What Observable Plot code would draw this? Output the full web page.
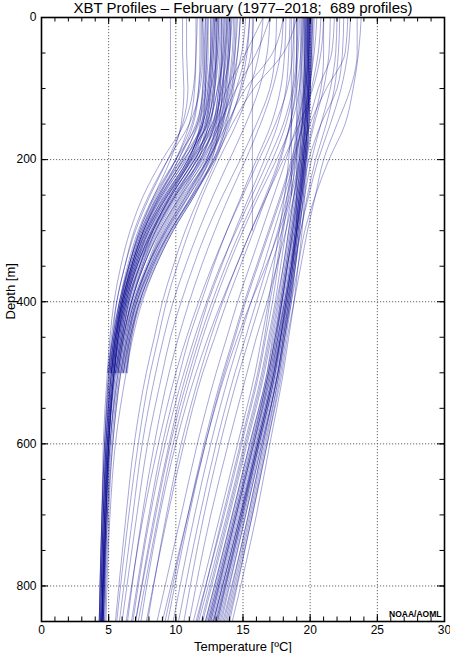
<!DOCTYPE html>
<html><head><meta charset="utf-8">
<script src="https://cdn.jsdelivr.net/npm/d3@7"></script>
<script src="https://cdn.jsdelivr.net/npm/@observablehq/plot@0.6"></script>
<style>html,body{margin:0;padding:0;background:#fff}</style>
</head><body><div id="chart"></div>
<script>
// Depth levels (m) at which each profile's temperature (°C) is read
const depthLevels = [0,50,100,150,200,250,300,350,400,450,500,600,700,850];

// Cold (slope water) profiles reaching 850 m
const coldFull = [
 [13.0,13.0,12.8,12.3,10.8,9.0,7.6,6.7,6.0,5.6,5.3,4.9,4.7,4.5],
 [12.4,12.4,12.2,11.6,10.0,8.4,7.2,6.4,5.8,5.4,5.1,4.8,4.6,4.4],
 [14.0,13.9,13.6,13.0,11.6,9.8,8.3,7.2,6.4,5.9,5.5,5.0,4.8,4.5],
 [13.5,13.4,13.2,12.7,11.2,9.4,8.0,7.0,6.2,5.7,5.4,5.0,4.7,4.5],
 [12.0,12.0,11.8,11.0,9.4,8.0,6.9,6.2,5.6,5.3,5.0,4.7,4.5,4.3],
 [14.6,14.4,14.0,13.4,12.2,10.4,8.8,7.6,6.7,6.1,5.7,5.1,4.9,4.6],
 [13.2,13.1,12.6,12.0,10.9,9.2,7.8,6.8,6.1,5.7,5.4,5.0,4.8,4.6],
 [11.6,11.5,11.3,10.6,9.0,7.6,6.6,5.9,5.4,5.1,4.9,4.6,4.5,4.3],
 [15.2,14.9,14.2,13.3,11.9,10.1,8.6,7.5,6.6,6.0,5.6,5.1,4.8,4.5],
 [12.8,12.7,12.5,12.2,11.2,9.4,7.8,6.8,6.0,5.5,5.2,4.8,4.6,4.4],
 [13.8,13.6,13.1,12.4,10.6,8.9,7.6,6.7,6.0,5.6,5.3,4.9,4.7,4.5],
 [12.2,12.1,12.0,11.8,11.0,9.5,8.1,7.0,6.2,5.7,5.4,5.0,4.8,4.6],
 [14.3,14.2,13.9,13.5,12.6,11.0,9.3,7.9,6.9,6.2,5.8,5.2,4.9,4.7],
 [13.4,13.3,13.1,12.5,11.4,9.6,8.0,6.9,6.1,5.6,5.3,4.9,4.6,4.4],
 [10.8,10.8,10.9,10.5,9.4,8.1,7.0,6.2,5.6,5.2,5.0,4.7,4.5,4.3],
 [12.6,12.6,12.4,12.0,10.4,8.7,7.4,6.5,5.9,5.5,5.2,4.9,4.7,4.5],
 [13.6,13.5,13.3,12.9,11.8,10.0,8.4,7.3,6.4,5.9,5.5,5.0,4.8,4.5],
 [12.9,12.8,12.6,12.1,10.6,8.9,7.6,6.7,6.0,5.5,5.2,4.8,4.6,4.4],
 [14.1,14.0,13.5,12.8,11.4,9.7,8.2,7.1,6.3,5.8,5.4,5.0,4.7,4.5],
 [11.9,11.9,11.7,11.2,10.0,8.5,7.3,6.5,5.9,5.4,5.1,4.7,4.5,4.3],
 [13.1,13.0,12.9,12.6,11.6,9.9,8.3,7.1,6.3,5.8,5.4,5.0,4.8,4.6],
 [14.8,14.6,14.3,13.8,12.9,11.3,9.6,8.2,7.1,6.4,5.9,5.3,5.0,4.7],
 [12.3,12.3,12.2,11.9,10.9,9.2,7.7,6.7,6.0,5.5,5.2,4.8,4.6,4.4],
 [13.9,13.8,13.4,12.7,11.1,9.3,7.9,6.9,6.2,5.7,5.4,4.9,4.7,4.5]
];

// Cold profiles ending at 500 m
const coldShort = [
 [13.0,12.9,12.7,12.2,11.0,9.4,8.0,7.0,6.2,5.7,5.4],
 [13.6,13.5,13.2,12.8,11.8,10.0,8.5,7.4,6.5,6.0,5.6],
 [12.4,12.3,12.1,11.5,10.2,8.7,7.5,6.6,5.9,5.4,5.1],
 [14.2,14.0,13.7,13.2,12.3,10.7,9.2,8.0,7.0,6.4,6.0],
 [12.9,12.8,12.6,12.3,11.5,10.0,8.5,7.3,6.4,5.9,5.5],
 [13.3,13.2,12.9,12.3,11.1,9.6,8.3,7.3,6.5,6.0,5.6],
 [11.8,11.8,11.7,11.3,10.2,8.8,7.5,6.6,5.9,5.4,5.0],
 [14.8,14.6,14.1,13.5,12.5,11.0,9.5,8.2,7.2,6.6,6.3],
 [13.1,13.0,12.8,12.4,11.7,10.3,8.8,7.6,6.7,6.1,5.7],
 [12.6,12.6,12.4,11.9,10.7,9.1,7.8,6.8,6.1,5.6,5.2],
 [13.9,13.7,13.4,12.9,11.9,10.4,8.9,7.8,6.8,6.2,5.8],
 [12.2,12.2,12.0,11.6,10.5,9.0,7.7,6.8,6.1,5.5,5.1],
 [10.5,10.5,10.6,10.4,9.6,8.4,7.3,6.5,5.8,5.3,5.0],
 [14.4,14.3,13.9,13.2,12.1,10.5,9.0,7.9,7.0,6.4,6.0],
 [13.4,13.4,13.3,13.0,12.3,10.8,9.2,7.9,6.9,6.3,5.9],
 [12.0,12.1,12.2,12.0,11.1,9.6,8.2,7.1,6.3,5.7,5.3],
 [15.5,15.2,14.5,13.6,12.4,10.8,9.3,8.1,7.1,6.5,6.1],
 [13.7,13.6,13.5,13.2,12.7,11.4,9.8,8.5,7.4,6.7,6.4],
 [12.7,12.6,12.3,11.7,10.4,8.8,7.6,6.7,6.0,5.5,5.2],
 [14.1,14.0,13.8,13.4,12.5,11.2,9.6,8.3,7.3,6.6,6.2],
 [13.2,13.1,12.9,12.5,11.3,9.7,8.2,7.1,6.3,5.8,5.4],
 [14.5,14.4,14.2,13.7,12.8,11.3,9.7,8.4,7.3,6.7,6.3],
 [12.8,12.7,12.5,12.0,10.9,9.3,7.9,6.9,6.1,5.6,5.2],
 [13.8,13.7,13.5,13.1,12.0,10.2,8.7,7.6,6.7,6.1,5.7],
 [11.5,11.5,11.4,11.0,10.0,8.6,7.4,6.5,5.8,5.3,4.9],
 [14.0,13.9,13.7,13.3,12.4,10.9,9.4,8.1,7.1,6.5,6.1]
];

// Cold profiles with a warm surface layer
const coldWarmTop = [
 [17.0,16.0,14.5,13.2,11.6,9.9,8.5,7.5,6.7,6.1,5.7,5.1,4.8,4.5],
 [16.5,15.2,13.8,12.9,11.4,9.7,8.3,7.3,6.5,6.0,5.5],
 [18.0,17.2,15.2,13.8,12.4,10.6,9.1,7.9,6.9,6.3,5.9,5.3,4.9,4.6],
 [15.8,15.6,14.9,13.9,12.8,11.2,9.6,8.3,7.3,6.6,6.1],
 [19.0,18.0,15.8,14.2,12.9,11.4,9.8,8.5,7.5,6.8,6.3,5.5,5.1,4.8]
];

// Warm (Sargasso / Gulf Stream) core profiles
const warmCore = [
 [19.8,19.8,19.7,19.6,19.4,19.1,18.8,18.4,18.0,17.6,17.2,16.0,14.8,12.8],
 [20.0,20.0,19.9,19.8,19.6,19.3,19.0,18.7,18.3,17.9,17.5,16.3,15.1,13.2],
 [19.6,19.6,19.5,19.4,19.2,18.9,18.5,18.1,17.7,17.2,16.8,15.5,14.2,12.2],
 [19.9,19.9,19.8,19.7,19.5,19.3,19.0,18.7,18.4,18.0,17.6,16.5,15.4,13.6],
 [20.1,20.0,19.9,19.8,19.7,19.5,19.2,18.9,18.5,18.1,17.7,16.7,15.6,13.8],
 [19.7,19.7,19.6,19.5,19.3,19.0,18.6,18.2,17.8,17.4,16.9,15.7,14.4,12.4],
 [19.5,19.5,19.4,19.2,18.9,18.6,18.2,17.8,17.4,16.9,16.4,15.1,13.8,11.7],
 [20.0,19.9,19.9,19.8,19.6,19.4,19.1,18.8,18.5,18.1,17.7,16.6,15.5,13.7],
 [19.8,19.8,19.8,19.7,19.5,19.2,18.9,18.5,18.1,17.7,17.2,16.0,14.7,12.7],
 [19.9,19.9,19.8,19.6,19.4,19.2,18.9,18.6,18.2,17.8,17.4,16.2,15.0,13.0],
 [19.4,19.4,19.3,19.1,18.8,18.4,18.0,17.6,17.2,16.7,16.2,14.9,13.6,11.5],
 [20.2,20.1,20.0,19.9,19.8,19.6,19.4,19.1,18.8,18.4,18.0,17.0,16.0,14.2],
 [18.8,18.8,18.7,18.6,18.4,18.1,17.7,17.3,16.9,16.4,15.9,14.6,13.3,11.3],
 [19.7,19.7,19.7,19.6,19.4,19.1,18.7,18.3,17.9,17.5,17.0,15.8,14.5,12.5],
 [20.0,20.0,20.0,19.9,19.7,19.4,19.1,18.8,18.4,18.0,17.6,16.4,15.2,13.4],
 [19.6,19.6,19.6,19.5,19.3,19.0,18.7,18.3,17.9,17.4,16.9,15.6,14.3,12.3],
 [19.8,19.8,19.7,19.6,19.5,19.2,18.9,18.6,18.2,17.8,17.3,16.1,14.8,12.8],
 [20.0,19.9,19.9,19.8,19.6,19.4,19.0,18.7,18.3,17.8,17.4,16.2,14.9,13.0],
 [19.6,19.6,19.5,19.4,19.1,18.8,18.4,18.0,17.6,17.1,16.6,15.3,14.0,12.0],
 [19.9,19.9,19.9,19.8,19.6,19.3,19.0,18.6,18.2,17.7,17.3,16.1,14.9,13.1],
 [20.1,20.1,20.0,19.9,19.7,19.5,19.2,18.9,18.6,18.2,17.8,16.8,15.7,13.9],
 [19.7,19.7,19.6,19.4,19.2,18.8,18.4,18.0,17.5,17.0,16.5,15.2,13.9,11.9],
 [19.3,19.3,19.2,19.0,18.7,18.3,17.9,17.5,17.0,16.6,16.1,14.8,13.5,11.6],
 [19.9,19.9,19.8,19.7,19.5,19.3,19.0,18.6,18.1,17.6,17.1,15.8,14.5,12.6]
];

// Warm profiles with a very warm surface layer
const warmSurface = [
 [22.5,22.4,22.0,20.8,19.9,19.4,19.0,18.6,18.2,17.8,17.3,16.1,14.9,12.9],
 [23.0,22.8,22.3,21.5,20.6,19.9,19.3,18.9,18.5,18.0,17.6,16.4,15.2,13.3],
 [21.5,21.4,21.0,20.3,19.7,19.3,18.9,18.5,18.1,17.6,17.1,15.9,14.6,12.6],
 [23.5,23.5,23.0,22.0,21.0,20.4,19.8,19.3,18.8,18.3,17.9,16.8,15.7,14.0],
 [22.0,21.9,21.5,20.8,20.1,19.6,19.1,18.7,18.3,17.8,17.3,16.1,14.8,12.8],
 [21.0,21.0,20.8,20.2,19.6,19.2,18.8,18.3,17.9,17.4,16.9,15.7,14.4,12.4],
 [22.8,22.6,21.2,20.0,19.4,19.0,18.6,18.2,17.8,17.3,16.8,15.5,14.2,12.2],
 [23.8,23.6,23.2,22.6,21.4,20.4,19.6,19.1,18.6,18.1,17.6,16.5,15.4,13.5],
 [21.8,21.6,20.6,19.9,19.5,19.1,18.7,18.3,17.9,17.5,17.0,15.8,14.5,12.5],
 [22.2,22.1,21.8,21.2,20.4,19.8,19.3,18.8,18.4,17.9,17.4,16.2,15.0,13.1]
];

// Transitional (frontal) profiles
const middle = [
 [19.0,19.0,18.9,18.5,17.8,16.8,15.8,14.8,13.8,12.9,12.0,10.6,9.4,7.8],
 [19.5,19.4,19.2,18.6,17.5,16.2,15.0,13.9,12.9,12.0,11.2,9.8,8.7,7.2],
 [18.5,18.4,18.2,17.6,16.6,15.5,14.4,13.4,12.4,11.6,10.8,9.5,8.4,7.0],
 [20.0,19.9,19.6,19.0,18.2,17.3,16.4,15.5,14.6,13.8,13.0,11.6,10.4,8.6],
 [19.7,19.6,19.5,19.2,18.6,17.8,16.9,16.0,15.1,14.3,13.5,12.1,10.9,9.2],
 [18.8,18.7,18.3,17.4,16.2,15.0,13.8,12.7,11.7,10.8,10.0,8.7,7.6,6.3],
 [19.2,19.1,18.8,18.2,17.2,16.0,14.8,13.7,12.7,11.8,11.0,9.6,8.5,7.0],
 [20.5,20.3,19.9,19.4,18.8,18.1,17.3,16.5,15.6,14.8,14.0,12.6,11.4,9.8],
 [19.9,19.8,19.7,19.4,18.9,18.3,17.6,16.8,16.0,15.2,14.4,13.0,11.8,10.2],
 [17.5,17.4,17.0,16.0,14.8,13.5,12.3,11.3,10.4,9.6,9.0,7.9,7.1,6.0],
 [16.5,16.2,15.5,14.5,13.2,12.0,11.0,10.1,9.3,8.7,8.1,7.2,6.5,5.6],
 [18.0,17.8,17.2,16.3,15.2,14.0,12.9,11.9,11.0,10.2,9.5,8.4,7.5,6.4],
 [20.2,20.1,19.9,19.6,19.2,18.6,17.9,17.1,16.3,15.5,14.7,13.3,12.1,10.6],
 [21.0,20.8,20.2,19.2,18.0,16.8,15.6,14.5,13.5,12.6,11.8,10.4,9.3,7.9],
 [15.5,15.3,14.8,14.0,13.0,11.8,10.7,9.8,9.0,8.4,7.8,6.9,6.3,5.5],
 [19.8,19.7,19.6,19.3,19.0,18.5,17.7,16.7,15.6,14.6,13.7,12.2,10.9,9.0],
 [18.2,18.1,17.8,17.1,16.0,14.9,13.8,12.8,11.9,11.0,10.3,9.0,8.0,6.7],
 [20.8,20.6,20.1,19.5,18.7,17.9,17.0,16.1,15.2,14.4,13.6,12.2,11.0,9.4],
 [19.4,19.3,19.0,18.5,17.7,16.7,15.6,14.5,13.4,12.4,11.5,10.0,8.8,7.4],
 [17.0,16.8,16.2,15.2,14.0,12.8,11.7,10.7,9.8,9.1,8.5,7.5,6.8,5.8],
 [20.3,20.2,20.0,19.7,19.3,18.8,18.2,17.5,16.8,16.0,15.3,13.9,12.6,11.0],
 [19.1,19.0,18.7,18.0,16.9,15.7,14.5,13.3,12.3,11.4,10.6,9.2,8.1,6.8]
];

// Faulty constant-temperature drops
const anomalies = [
 [15.7,15.7,15.7,15.7,15.7,15.7,15.7],
 [18.6,18.6,18.6,18.6,18.6,18.6],
 [9.6,9.6,9.6],
 [19.0,19.0,19.0,19.0,19.0,19.0,19.0]
];

// Axis ticks
const xMajor = [0,5,10,15,20,25,30];
const xMinor = d3.range(0, 31, 1);
const yMajor = [0,200,400,600,800];
const yMinor = d3.range(0, 851, 50);
const xGrid = [5,10,15,20,25];
const yGrid = [200,400,600,800];

const titleText = "XBT Profiles \u2013 February (1977\u20132018;\u00a0 689 profiles)";
const xLabel = "Temperature [\u00baC]";
const yLabel = "Depth [m]";
const credit = "NOAA/AOML";

const rows = [];
let pid = 0;
for (const g of [coldFull, coldShort, coldWarmTop, warmCore, warmSurface, middle, anomalies]) {
  for (const p of g) {
    p.forEach((t, i) => rows.push({id: pid, depth: depthLevels[i], temp: t}));
    pid++;
  }
}

const FH = 604, FW = 403; // frame size in px
const MAJ = 7, MIN = 4.5;
const font = "'Liberation Sans', Arial, Helvetica, sans-serif";

const chart = Plot.plot({
  width: 450, height: 653,
  marginLeft: 41, marginRight: 6, marginTop: 17, marginBottom: 32,
  style: {fontFamily: font, background: "#fff", color: "#000", overflow: "visible"},
  x: {domain: [0, 30], axis: null},
  y: {domain: [0, 850], reverse: true, axis: null},
  marks: [
    Plot.ruleX(xGrid, {x: d => d, stroke: "#666", strokeWidth: 1, strokeDasharray: "1.2,1.8"}),
    Plot.ruleY(yGrid, {y: d => d, stroke: "#666", strokeWidth: 1, strokeDasharray: "1.2,1.8"}),
    Plot.line(rows, {x: "temp", y: "depth", z: "id", curve: "monotone-y",
      stroke: "#08088f", strokeOpacity: 0.4, strokeWidth: 0.9}),
    // inward ticks: bottom, top, left, right
    Plot.ruleX(xMinor, {x: d => d, insetTop: FH - MIN, stroke: "#000"}),
    Plot.ruleX(xMinor, {x: d => d, insetBottom: FH - MIN, stroke: "#000"}),
    Plot.ruleX(xMajor, {x: d => d, insetTop: FH - MAJ, stroke: "#000"}),
    Plot.ruleX(xMajor, {x: d => d, insetBottom: FH - MAJ, stroke: "#000"}),
    Plot.ruleY(yMinor, {y: d => d, insetRight: FW - MIN, stroke: "#000"}),
    Plot.ruleY(yMinor, {y: d => d, insetLeft: FW - MIN, stroke: "#000"}),
    Plot.ruleY(yMajor, {y: d => d, insetRight: FW - MAJ, stroke: "#000"}),
    Plot.ruleY(yMajor, {y: d => d, insetLeft: FW - MAJ, stroke: "#000"}),
    Plot.frame({stroke: "#000", strokeWidth: 1.6}),
    // tick labels
    Plot.text(xMajor, {x: d => d, text: d => String(d), frameAnchor: "bottom", dy: 9, lineAnchor: "middle", fontSize: 12, fill: "#000"}),
    Plot.text(yMajor, {y: d => d, text: d => String(d), frameAnchor: "left", dx: -5, textAnchor: "end", lineAnchor: "middle", fontSize: 12, fill: "#000"}),
    // titles
    Plot.text([titleText], {text: d => d, frameAnchor: "top", dy: -9, lineAnchor: "middle", fontSize: 15, fill: "#000"}),
    Plot.text([xLabel], {text: d => d, frameAnchor: "bottom", dy: 25, lineAnchor: "middle", fontSize: 13, fill: "#000"}),
    Plot.text([yLabel], {text: d => d, frameAnchor: "left", dx: -31, rotate: -90, lineAnchor: "middle", fontSize: 13, fill: "#000"}),
    Plot.text([credit], {text: d => d, frameAnchor: "bottom-right", dx: -3, dy: -7, textAnchor: "end", lineAnchor: "middle", fontSize: 8.5, fontWeight: "bold", fill: "#000"})
  ]
});
document.getElementById("chart").appendChild(chart);
</script>
</body></html>
